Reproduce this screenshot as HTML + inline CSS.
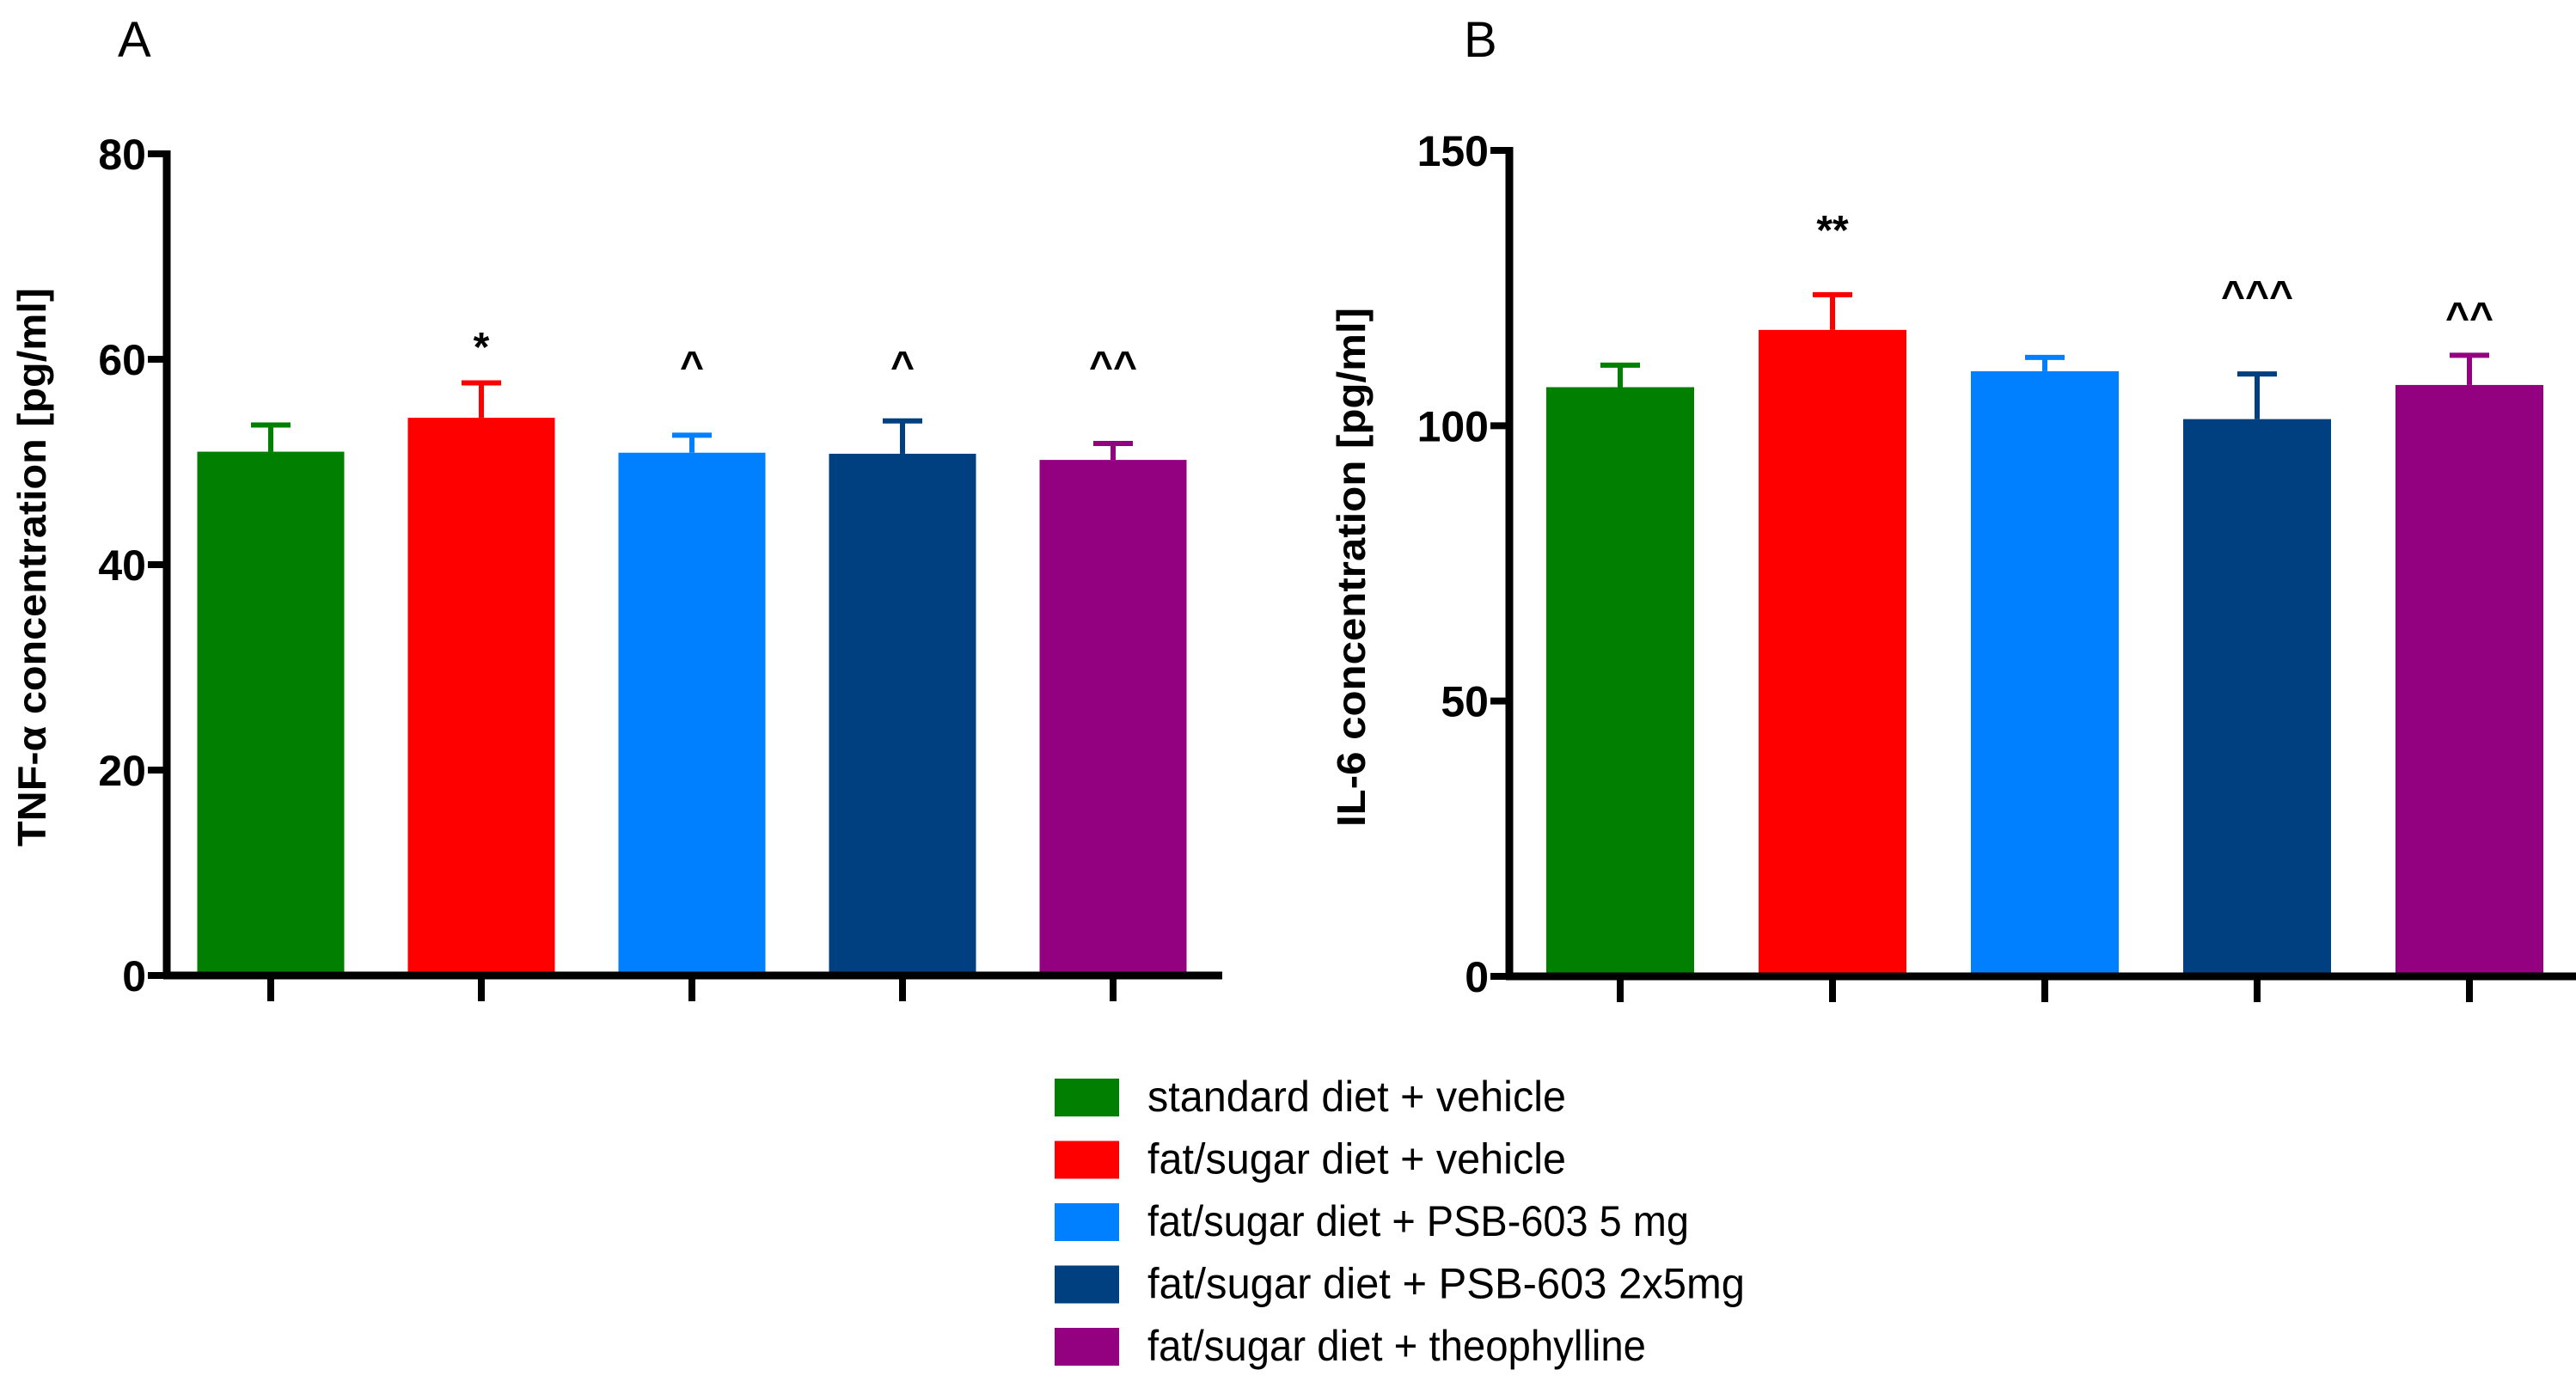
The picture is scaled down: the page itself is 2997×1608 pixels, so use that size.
<!DOCTYPE html>
<html><head><meta charset="utf-8"><style>
html,body{margin:0;padding:0;background:#fff;}
svg{display:block;font-family:"Liberation Sans",sans-serif;}
</style></head><body>
<svg id="fig" width="2997" height="1608" viewBox="0 0 2997 1608" xmlns="http://www.w3.org/2000/svg">
<text x="137" y="66" font-size="58">A</text>
<text x="1703" y="66" font-size="58">B</text>
<g id="legend"></g>
</svg>
<script>
const groups = ["standard diet + vehicle","fat/sugar diet + vehicle","fat/sugar diet + PSB-603 5 mg","fat/sugar diet + PSB-603 2x5mg","fat/sugar diet + theophylline"];
const colors = ["#007f00","#ff0000","#0080ff","#003f80","#930080"];
const tnfValues = [51.0, 54.3, 50.9, 50.8, 50.2];
const tnfErrors = [2.6, 3.4, 1.7, 3.2, 1.6];
const tnfMarks = ["", "*", "^", "^", "^^"];
const tnfTicks = [0, 20, 40, 60, 80];
const il6Values = [107.0, 117.4, 109.9, 101.2, 107.4];
const il6Errors = [4.0, 6.4, 2.5, 8.2, 5.4];
const il6Marks = ["", "**", "", "^^^", "^^"];
const il6Ticks = [0, 50, 100, 150];
const legendWidths = [487, 487, 630, 695, 580];

const NS = "http://www.w3.org/2000/svg";
const svg = document.getElementById('fig');
function mk(tag, attrs, parent){const e=document.createElementNS(NS,tag);for(const k in attrs)e.setAttribute(k,attrs[k]);(parent||svg).appendChild(e);return e;}

function panel(cfg){
  const g = mk('g',{});
  
  
  const y = v => cfg.y0 - (v/cfg.max)*(cfg.y0-cfg.yTop);
  const x = i => cfg.x0 + i*cfg.step;
  cfg.values.forEach((v,i)=>{
    const cx = x(i);
    const eb = mk('line',{x1:cx,x2:cx,y1:y(v),y2:y(v+cfg.errors[i]),stroke:colors[i],'stroke-width':6},g);
    
    
    const cap = mk('line',{x1:cx-23,x2:cx+23,y1:y(v+cfg.errors[i]),y2:y(v+cfg.errors[i]),stroke:colors[i],'stroke-width':6},g);
    
    
    const r = mk('rect',{x:cx-cfg.bw/2,y:y(v),width:cfg.bw,height:cfg.y0-y(v),fill:colors[i]},g);
    
    
    const t = mk('line',{x1:cx,x2:cx,y1:cfg.y0,y2:cfg.y0+30,stroke:'#000','stroke-width':8},g);
    
    
    if(cfg.marks[i]){
      const m = mk('text',{x:cx,y:cfg.markY[i],'text-anchor':'middle','font-size':48,'font-weight':'bold'},g);
      m.textContent = cfg.marks[i];
      
      
    }
  });
  const ya = mk('line',{x1:cfg.ax,x2:cfg.ax,y1:cfg.yTop-4,y2:cfg.y0+4,stroke:'#000','stroke-width':9},g);
  
  
  const xa = mk('line',{x1:cfg.ax-4,x2:cfg.xEnd,y1:cfg.y0,y2:cfg.y0,stroke:'#000','stroke-width':9},g);
  
  
  cfg.ticks.forEach(tv=>{
    const ty = y(tv);
    const tl = mk('line',{x1:cfg.ax-22,x2:cfg.ax,y1:ty,y2:ty,stroke:'#000','stroke-width':8},g);
    
    
    const lb = mk('text',{x:cfg.ax-24,y:ty+18,'text-anchor':'end','font-size':50,'font-weight':'bold'},g);
    lb.textContent = String(tv);
    
    
  });
  const tt = mk('text',{x:0,y:0,'text-anchor':'middle','font-size':46,'font-weight':'bold',textLength:cfg.titleLen,lengthAdjust:'spacingAndGlyphs',transform:`translate(${cfg.titleX},${cfg.titleY}) rotate(-90)`},g);
  tt.textContent = cfg.title;
  
  
}

panel({name:'panel-a-tnf-chart',values:tnfValues,errors:tnfErrors,marks:tnfMarks,ticks:tnfTicks,max:80,
  y0:1135,yTop:179,ax:194,xEnd:1422,x0:315,step:245,bw:171,markY:[0,420,442,442,442],
  title:'TNF-\u03b1 concentration [pg/ml]',titleX:53,titleY:660,titleLen:650});
panel({name:'panel-b-il6-chart',values:il6Values,errors:il6Errors,marks:il6Marks,ticks:il6Ticks,max:150,
  y0:1136,yTop:175,ax:1756,xEnd:2997,x0:1885,step:247,bw:172,markY:[0,284,0,360,385],
  title:'IL-6 concentration [pg/ml]',titleX:1588,titleY:660,titleLen:604});

const lg = document.getElementById('legend');
groups.forEach((name,i)=>{
  const top = 1255 + i*72.5;
  const sw = mk('rect',{x:1227,y:top,width:75,height:44,fill:colors[i]},lg);
  
  
  const tx = mk('text',{x:1335,y:top+38,'font-size':50,textLength:legendWidths[i],lengthAdjust:'spacingAndGlyphs'},lg);
  tx.textContent = name;
  
  
});
</script>
</body></html>
